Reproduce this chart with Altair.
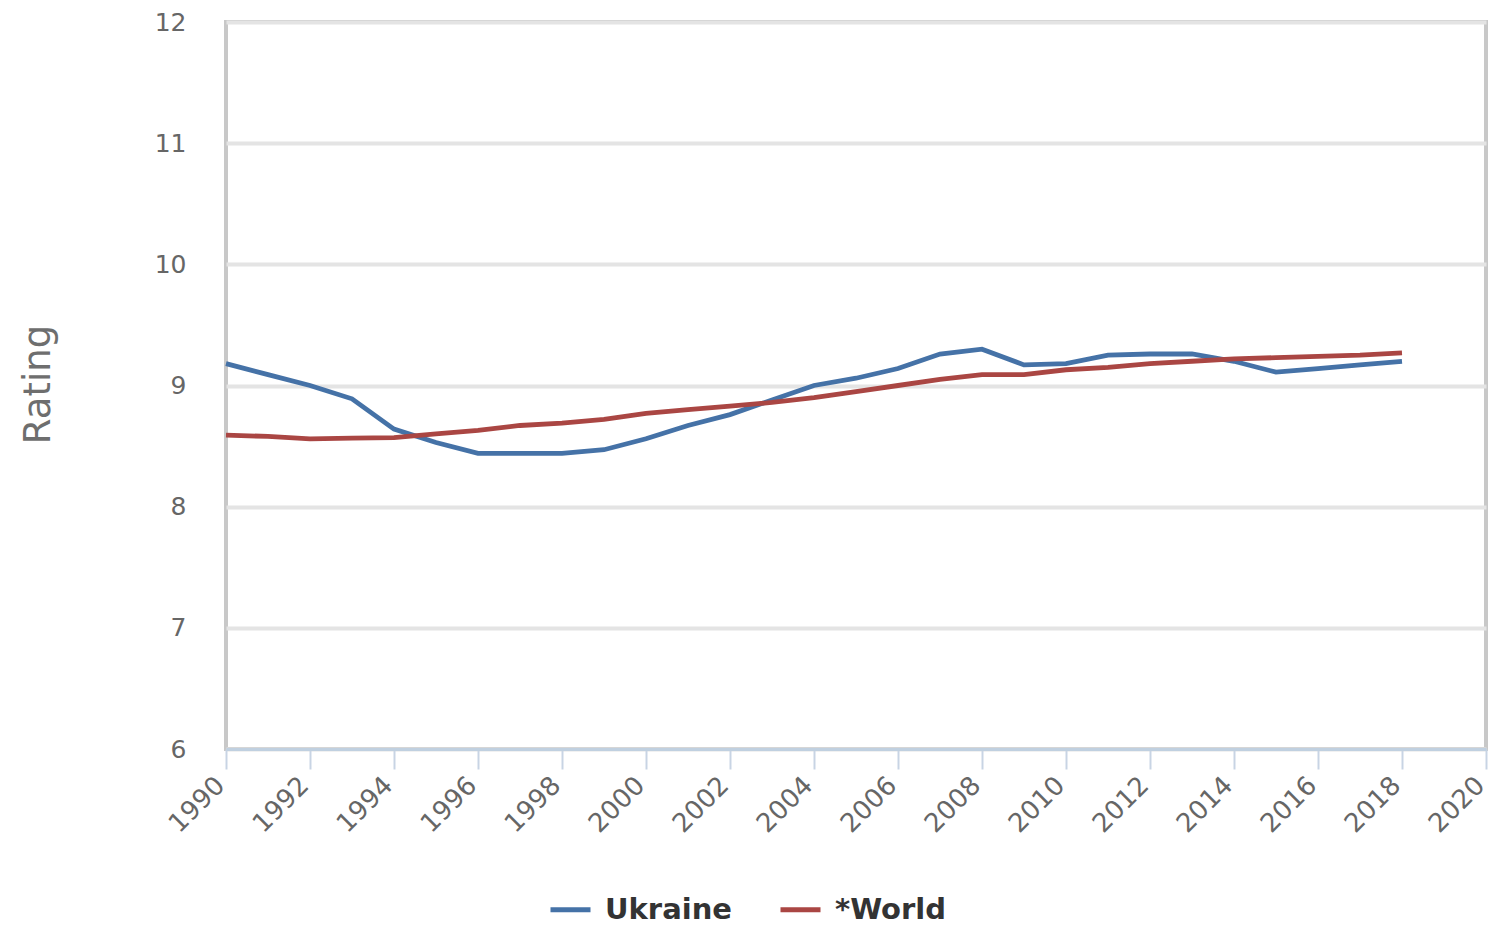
import altair as alt
import pandas as pd

years = list(range(1990, 2019))
ukraine = [9.18, 9.09, 9.00, 8.89, 8.64, 8.53, 8.44, 8.44, 8.44, 8.47,
           8.56, 8.67, 8.76, 8.88, 9.00, 9.06, 9.14, 9.26, 9.30, 9.17,
           9.18, 9.25, 9.26, 9.26, 9.20, 9.11, 9.14, 9.17, 9.20]
world = [8.59, 8.58, 8.56, 8.565, 8.57, 8.60, 8.63, 8.67, 8.69, 8.72,
         8.77, 8.80, 8.83, 8.86, 8.90, 8.95, 9.00, 9.05, 9.09, 9.09,
         9.13, 9.15, 9.18, 9.20, 9.22, 9.23, 9.24, 9.25, 9.27]
series_names = ["Ukraine", "*World"]
series_colors = ["#4572A7", "#AA4643"]
x_ticks = list(range(1990, 2021, 2))
y_ticks = [6, 7, 8, 9, 10, 11, 12]

rows = []
for y, u, w in zip(years, ukraine, world):
    rows.append({"year": y, "value": u, "series": series_names[0]})
    rows.append({"year": y, "value": w, "series": series_names[1]})
df = pd.DataFrame(rows)

FONT = "DejaVu Sans"

chart = alt.Chart(df).mark_line(strokeWidth=4.8, interpolate="linear").encode(
    x=alt.X("year:Q",
            scale=alt.Scale(domain=[1990, 2020], nice=False, zero=False),
            axis=alt.Axis(values=x_ticks, format="d", title=None,
                          grid=False, domain=True, domainColor="#C0D0E0",
                          domainWidth=3, ticks=True, tickColor="#C8D4E4",
                          tickSize=20, tickWidth=2,
                          labelAngle=-45, labelAlign="right",
                          labelBaseline="middle", labelPadding=12,
                          labelOffset=-6,
                          labelFont=FONT, labelFontSize=26,
                          labelColor="#666666")),
    y=alt.Y("value:Q",
            scale=alt.Scale(domain=[6, 12], nice=False, zero=False),
            axis=alt.Axis(values=y_ticks, title="Rating", grid=True,
                          gridColor="#E4E4E4", gridWidth=4,
                          domain=False, ticks=False, labelPadding=40,
                          labelFont=FONT, labelFontSize=25,
                          labelColor="#666666",
                          titleFont=FONT, titleFontSize=37,
                          titleFontWeight="normal", titleColor="#6E6E6E",
                          titleAngle=-90, titleX=-188, titleY=362,
                          titleAlign="center", titleBaseline="middle")),
    color=alt.Color("series:N",
                    scale=alt.Scale(domain=series_names, range=series_colors),
                    legend=alt.Legend(title=None, orient="none",
                                      direction="horizontal",
                                      legendX=322, legendY=865,
                                      symbolType="stroke", symbolStrokeWidth=4.8,
                                      symbolSize=1600, columnPadding=38,
                                      labelFont=FONT, labelFontSize=29,
                                      labelFontWeight="bold",
                                      labelColor="#333333",
                                      labelOffset=12)),
).properties(
    width=1260,
    height=727,
    background="white",
    autosize=alt.AutoSizeParams(type="none"),
    padding={"left": 218, "top": 14, "right": 5, "bottom": 178},
).configure_view(
    stroke="#C8C8C8", strokeWidth=4
)

chart.save("out.html", embed_options={"renderer": "svg", "actions": False})
